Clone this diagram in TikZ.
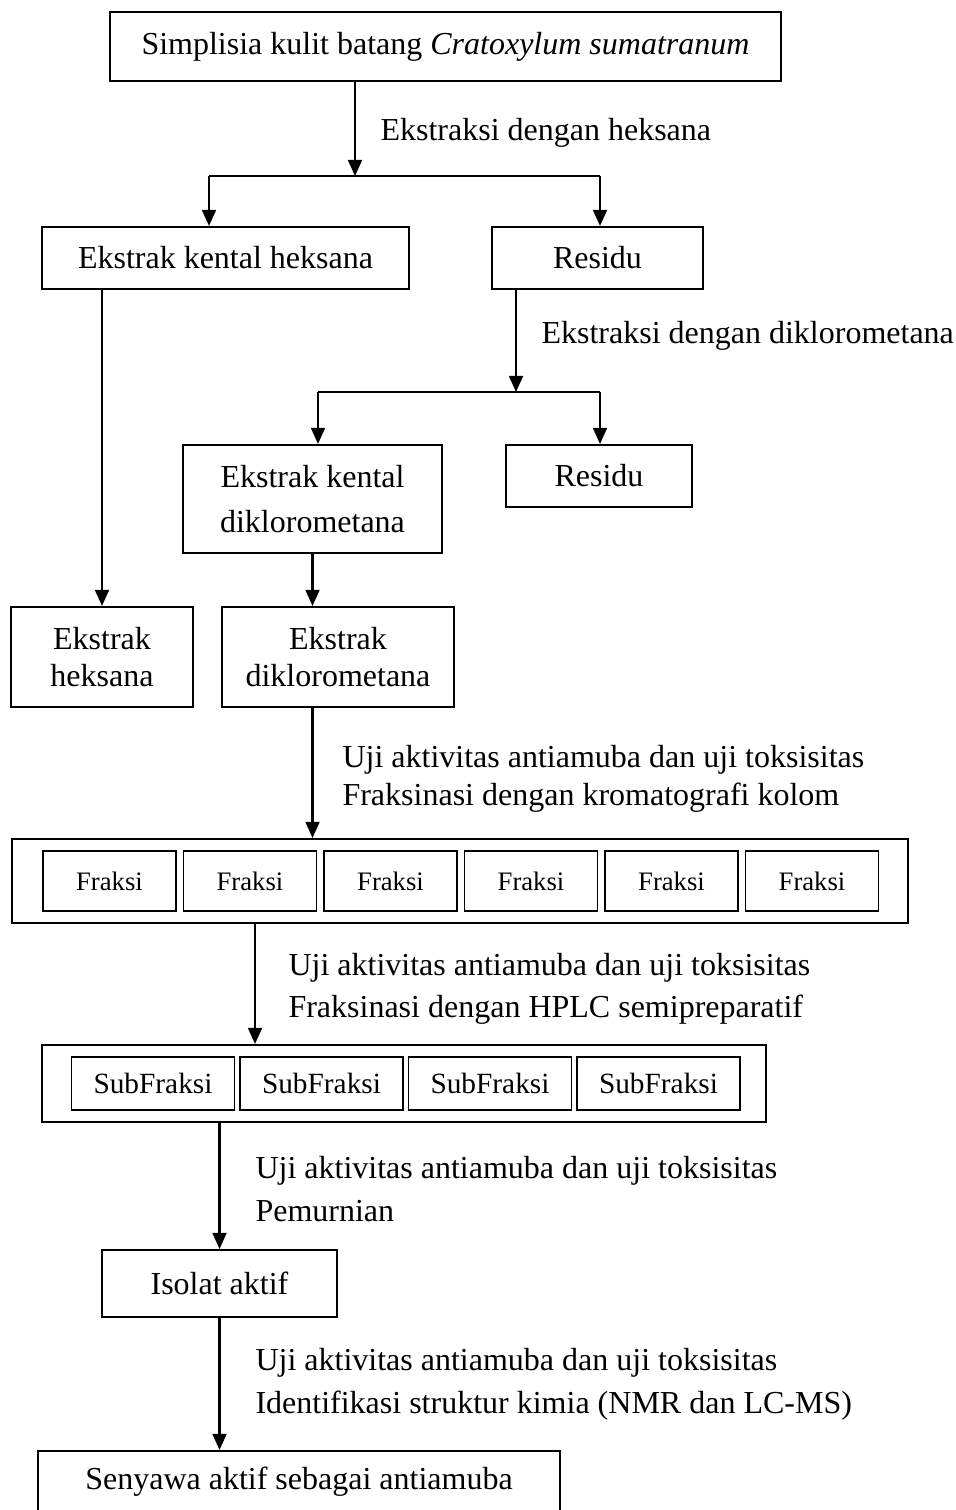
\documentclass[tikz,border=0pt]{standalone}
\usepackage{fontspec}
\setmainfont{Liberation Serif}
\usetikzlibrary{positioning,arrows.meta,calc}

\tikzset{
  box/.style={draw, line width=0.8pt, align=center, inner sep=0pt},
  sz/.style 2 args={minimum width=#1*0.375pt, minimum height=#2*0.375pt},
  lbl/.style={anchor=west, align=left, inner sep=0pt},
  ln/.style={line width=0.8pt},
  arr/.style={line width=0.8pt, -{Triangle[length=6pt,width=5.2pt]}},
}

\begin{document}
\begin{tikzpicture}[x=0.375pt, y=-0.375pt, font=\fontsize{12}{17}\selectfont]
  \useasboundingbox (0,0) rectangle (955,1510);

  % boxes
  \node[box, sz={671}{69}] (top) at (445.5,46.5) {Simplisia kulit batang \textit{Cratoxylum sumatranum}};
  \node[box, sz={367}{62}] (ekh) at (225.5,258) {Ekstrak kental heksana};
  \node[box, sz={211}{62}] (res1) at (597.5,258) {Residu};
  \node[box, sz={259}{108}] (ekd) at (312.5,499) {Ekstrak kental\\diklorometana};
  \node[box, sz={186}{62}] (res2) at (599,476) {Residu};
  \node[box, sz={182}{100}, font=\fontsize{12}{14}\selectfont] (exh) at (102,657) {Ekstrak\\heksana};
  \node[box, sz={232}{100}, font=\fontsize{12}{14}\selectfont] (exd) at (338,657) {Ekstrak\\diklorometana};

  \node[box, sz={896}{84}] (fr) at (460,881) {};
  \foreach \i in {0,...,5} {
    \node[box, line width=0.7pt, sz={133}{60}, font=\fontsize{10}{12}\selectfont] (f\i) at ({109.5+140.5*\i},881) {Fraksi};
  }

  \node[box, sz={724}{77}] (sf) at (404,1083.5) {};
  \foreach \i in {0,...,3} {
    \node[box, line width=0.7pt, sz={163}{53}, font=\fontsize{11}{13}\selectfont] (sf\i) at ({153+168.5*\i},1083.5) {SubFraksi};
  }

  \node[box, sz={235}{67}] (iso) at (219.5,1283.5) {Isolat aktif};
  \node[box, sz={522}{62}] (fin) at (299,1482) {Senyawa aktif sebagai antiamuba};

  % labels
  \node[lbl] (l1) at (380,133) {Ekstraksi dengan heksana};
  \node[lbl] (l2) at (541,336) {Ekstraksi dengan diklorometana};
  \node[lbl, font=\fontsize{12}{14.5}\selectfont] (l3) at (342,779) {Uji aktivitas antiamuba dan uji toksisitas\\Fraksinasi dengan kromatografi kolom};
  \node[lbl, font=\fontsize{12}{16}\selectfont] (l4) at (288,989) {Uji aktivitas antiamuba dan uji toksisitas\\Fraksinasi dengan HPLC semipreparatif};
  \node[lbl, font=\fontsize{12}{16}\selectfont] (l5) at (255,1189) {Uji aktivitas antiamuba dan uji toksisitas\\Pemurnian};
  \node[lbl, font=\fontsize{12}{16}\selectfont] (l6) at (255,1384) {Uji aktivitas antiamuba dan uji toksisitas\\Identifikasi struktur kimia (NMR dan LC-MS)};

  % connectors
  \coordinate (s1) at (355,176);
  \coordinate (s1l) at (209,176);
  \coordinate (s1r) at (600,176);
  \draw[arr] (s1 |- top.south) -- (s1);
  \draw[ln] (s1l) -- (s1r);
  \draw[arr] (s1l) -- (s1l |- ekh.north);
  \draw[arr] (s1r) -- (s1r |- res1.north);

  \coordinate (s2) at (516,392);
  \coordinate (s2l) at (318,392);
  \coordinate (s2r) at (600,392);
  \draw[arr] (s2 |- res1.south) -- (s2);
  \draw[ln] (s2l) -- (s2r);
  \draw[arr] (s2l) -- (s2l |- ekd.north);
  \draw[arr] (s2r) -- (s2r |- res2.north);

  \draw[arr] (exh.north |- ekh.south) -- (exh.north);
  \draw[arr] (ekd.south) -- (ekd.south |- exd.north);
  \draw[arr] (ekd.south |- exd.south) -- (ekd.south |- fr.north);

  \coordinate (s3) at (255,1045);
  \draw[arr] (s3 |- fr.south) -- (s3 |- sf.north);
  \draw[arr] (iso.north |- sf.south) -- (iso.north);
  \draw[arr] (iso.south) -- (iso.south |- fin.north);
\end{tikzpicture}
\end{document}
